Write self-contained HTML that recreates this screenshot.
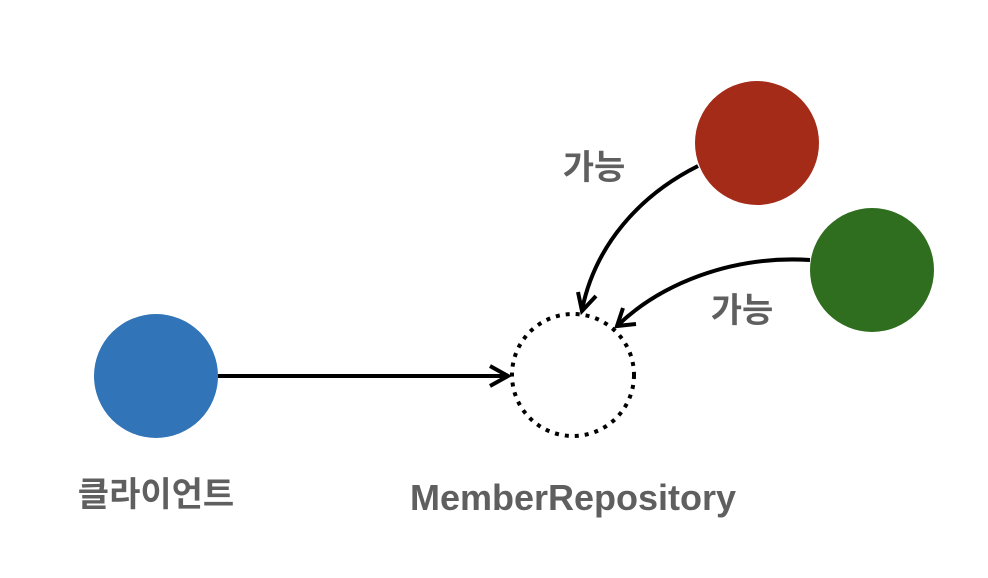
<!DOCTYPE html>
<html><head><meta charset="utf-8"><style>
html,body{margin:0;padding:0;background:#fff;width:988px;height:578px;overflow:hidden}
text{font-family:"Liberation Sans","Noto Sans CJK KR","NanumGothic",sans-serif;font-weight:bold;fill:#5f5f5f}
</style></head><body>
<svg width="988" height="578" viewBox="0 0 988 578" xmlns="http://www.w3.org/2000/svg">
<circle cx="156" cy="376" r="62" fill="#3274b8"/>
<circle cx="757" cy="143" r="62" fill="#a32b18"/>
<circle cx="872" cy="270" r="62" fill="#306e1f"/>
<circle cx="573" cy="375" r="61" fill="none" stroke="#000" stroke-width="4" stroke-dasharray="4 6"/>
<g fill="none" stroke="#000" stroke-width="4" stroke-linecap="butt">
<line x1="218" y1="376" x2="508" y2="376"/>
<polyline points="490,366 508,376 490,386"/>
<path d="M698,166 C640,195 595,245 582,310"/>
<polyline points="578,292 582,311 596,296"/>
<path d="M810,260 C730,255 660,285 618,325"/>
<polyline points="623,308 617,326 636,324"/>
</g>
<text x="594" y="179" font-size="34" text-anchor="middle">가능</text>
<text x="742" y="322" font-size="34" text-anchor="middle">가능</text>
<text x="156" y="506" font-size="34" text-anchor="middle">클라이언트</text>
<text x="573" y="510" font-size="36" text-anchor="middle">MemberRepository</text>
</svg>
</body></html>
